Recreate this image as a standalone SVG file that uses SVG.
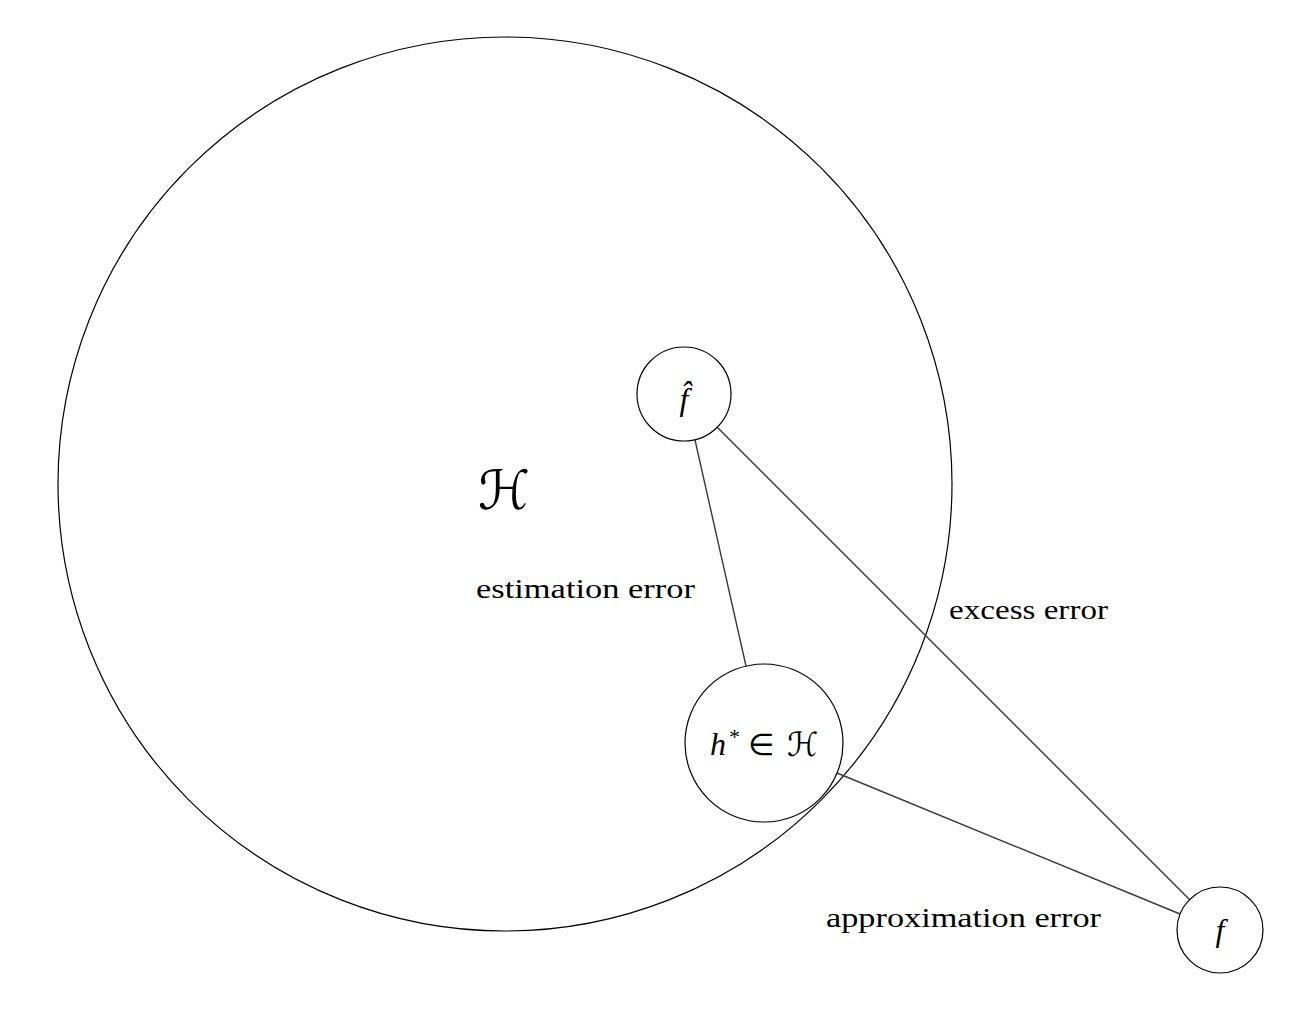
<svg xmlns="http://www.w3.org/2000/svg" width="1304" height="1024" viewBox="0 0 1304 1024">
<style>
.node{fill:none;stroke:#000;stroke-width:1.2}
.edge{stroke:#3a3a3a;stroke-width:1.4;fill:none}
.lbl{font-family:"Liberation Serif","DejaVu Serif",serif;font-size:27px;fill:#000}
.math{font-family:"Liberation Serif","DejaVu Serif",serif;font-style:italic;fill:#000}
.cal{font-family:"DejaVu Sans","Noto Sans",serif;font-style:italic;fill:#000}
</style>
<rect width="1304" height="1024" fill="#fff"/>
<g id="H">
<circle class="node" cx="505" cy="484" r="447"/>
<text class="cal" x="478" y="509" font-size="54" textLength="52" lengthAdjust="spacingAndGlyphs">ℋ</text>
</g>
<g id="connectors">
<line class="edge" x1="695" y1="440" x2="746" y2="666"/>
<line class="edge" x1="717" y1="427" x2="1190" y2="900"/>
<line class="edge" x1="837" y1="773" x2="1180" y2="914"/>
</g>
<g id="fhat">
<circle class="node" cx="684" cy="394" r="47"/>
<text class="math" x="684" y="410" font-size="32" text-anchor="middle">f̂</text>
</g>
<g id="hstar">
<circle class="node" cx="764" cy="743" r="79"/>
<text class="math" x="710" y="755" font-size="32">h</text>
<text class="math" x="728" y="744" font-size="22">*</text>
<text x="748" y="755" font-size="30" font-family="DejaVu Sans,serif" fill="#000">∈</text>
<text class="cal" x="787" y="756" font-size="33" textLength="31" lengthAdjust="spacingAndGlyphs">ℋ</text>
</g>
<g id="f">
<circle class="node" cx="1220" cy="930" r="43"/>
<text class="math" x="1220" y="941" font-size="32" text-anchor="middle">f</text>
</g>
<g id="labels">
<text class="lbl" x="476" y="598" textLength="219" lengthAdjust="spacingAndGlyphs">estimation error</text>
<text class="lbl" x="949" y="619" textLength="159" lengthAdjust="spacingAndGlyphs">excess error</text>
<text class="lbl" x="826" y="927" textLength="275" lengthAdjust="spacingAndGlyphs">approximation error</text>
</g>
</svg>
